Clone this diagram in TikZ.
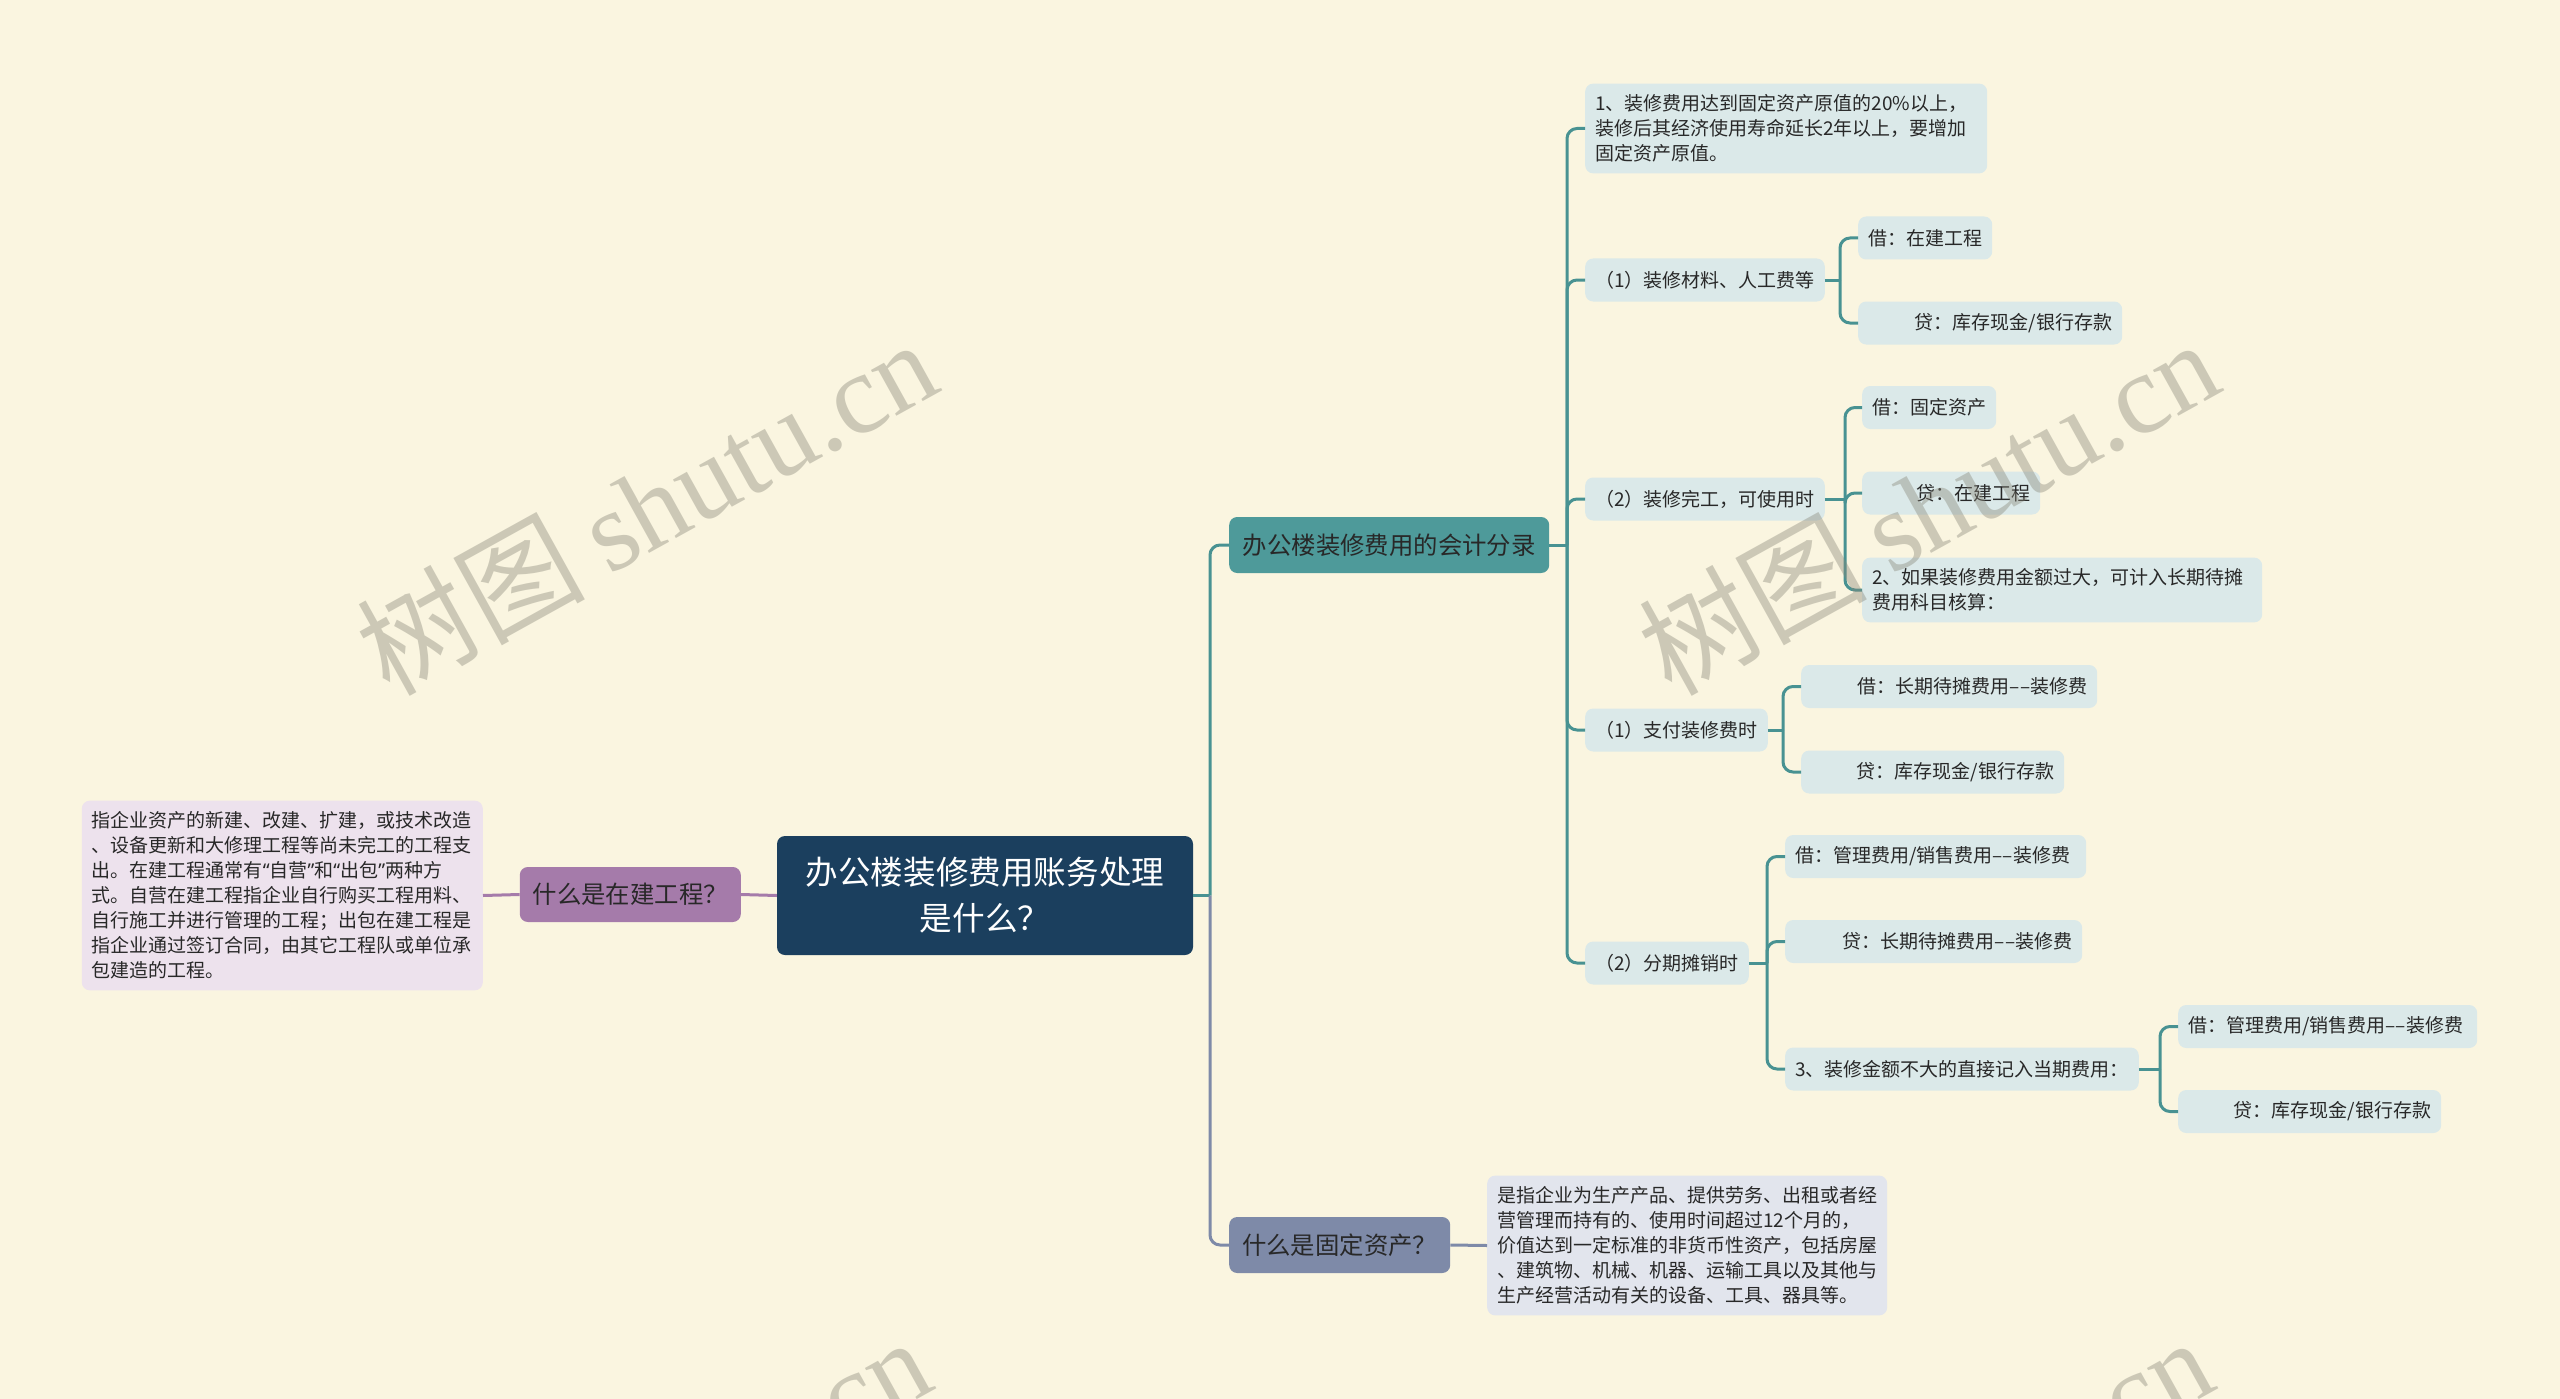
\documentclass[tikz,border=0pt]{standalone}
\usepackage{fontspec}
\setmainfont{Noto Sans CJK SC}
\newfontfamily\wmserif{Liberation Serif}
\newfontfamily\wmcjk{Noto Sans CJK SC}
\newfontfamily\latinq{Noto Sans}
\newcommand{\myLQ}{{\latinq “}}
\newcommand{\myRQ}{{\latinq ”}}
\usetikzlibrary{calc}
\definecolor{bgc}{RGB}{250,245,224}
\definecolor{tealc}{RGB}{78,154,154}
\definecolor{tlinec}{RGB}{72,146,146}
\definecolor{navyc}{RGB}{27,63,94}
\definecolor{purc}{RGB}{165,123,170}
\definecolor{grayc}{RGB}{126,138,168}
\definecolor{tleafc}{RGB}{219,233,233}
\definecolor{pleafc}{RGB}{237,226,237}
\definecolor{gleafc}{RGB}{226,229,237}
\definecolor{txtc}{RGB}{40,40,40}
\definecolor{wmc}{RGB}{136,134,120}
\begin{document}
\begin{tikzpicture}[x=1pt,y=-1pt,
  box/.style={rounded corners=8pt, inner xsep=10pt, inner ysep=0pt, anchor=west, text=txtc},
  leaf/.style={box, fill=tleafc, font=\fontsize{19}{25}\selectfont, minimum height=43pt},
  mleaf/.style={box, fill=tleafc, font=\fontsize{19}{25}\selectfont, inner ysep=11pt, align=left},
  branch/.style={box, minimum height=56pt, inner xsep=4pt, font=\fontsize{24.4}{28}\selectfont},
  tline/.style={draw=tlinec, line width=3pt},
  pline/.style={draw=purc, line width=3pt},
  gline/.style={draw=grayc, line width=3pt},
  rc/.style={rounded corners=10pt}
]
\useasboundingbox (0,0) rectangle (2560,1399);
\fill[bgc] (0,0) rectangle (2560,1399);

% central
\node[fill=navyc, rounded corners=8pt, minimum width=416pt, minimum height=119pt, inner sep=0pt,
  text=white, align=center, font=\fontsize{32.6}{46}\selectfont] (c) at (985,895.5)
  {办公楼装修费用账务处理\\是什么？};

% branches
\node[branch, fill=tealc, minimum width=320pt] (b1) at (1229,545) {办公楼装修费用的会计分录};
\node[branch, fill=purc, minimum width=221pt, minimum height=55pt, anchor=east] (pb) at (741,894.5) {什么是在建工程？};
\node[branch, fill=grayc, minimum width=221pt] (gb) at (1229,1245) {什么是固定资产？};

% purple leaf
\node[mleaf, fill=pleafc, anchor=east, text width=381pt] (pl) at (483,895.5)
  {指企业资产的新建、改建、扩建，或技术改造\\、设备更新和大修理工程等尚未完工的工程支\\出。在建工程通常有\myLQ 自营\myRQ 和\myLQ 出包\myRQ 两种方\\式。自营在建工程指企业自行购买工程用料、\\自行施工并进行管理的工程；出包在建工程是\\指企业通过签订合同，由其它工程队或单位承\\包建造的工程。};

% gray leaf
\node[mleaf, fill=gleafc, text width=380pt] (gl) at (1487,1245.5)
  {是指企业为生产产品、提供劳务、出租或者经\\营管理而持有的、使用时间超过12个月的，\\价值达到一定标准的非货币性资产，包括房屋\\、建筑物、机械、机器、运输工具以及其他与\\生产经营活动有关的设备、工具、器具等。};

% teal level 1
\node[mleaf, text width=382pt] (l1) at (1585,128.5)
  {1、装修费用达到固定资产原值的20\%以上，\\装修后其经济使用寿命延长2年以上，要增加\\固定资产原值。};
\node[leaf] (n1) at (1585,280) {（1）装修材料、人工费等};
\node[leaf] (n2) at (1585,499) {（2）装修完工，可使用时};
\node[leaf] (n3) at (1585,730) {（1）支付装修费时};
\node[leaf] (n4) at (1585,963) {（2）分期摊销时};

% n1 children
\node[leaf] (n11) at (1858,238) {借：在建工程};
\node[leaf, text width=244pt, align=right] (n12) at (1858,323) {贷：库存现金/银行存款};
% n2 children
\node[leaf] (n21) at (1862,407.5) {借：固定资产};
\node[leaf, text width=158pt, align=right] (n22) at (1862,493) {贷：在建工程};
\node[mleaf, text width=380pt] (n23) at (1862,590) {2、如果装修费用金额过大，可计入长期待摊\\费用科目核算：};
% n3 children
\node[leaf, text width=276pt, align=right] (n31) at (1801,686.5) {借：长期待摊费用––装修费};
\node[leaf, text width=243pt, align=right] (n32) at (1801,772) {贷：库存现金/银行存款};
% n4 children
\node[leaf, text width=281pt, align=left] (n41) at (1785,856.5) {借：管理费用/销售费用––装修费};
\node[leaf, text width=277pt, align=right] (n42) at (1785,941.5) {贷：长期待摊费用––装修费};
\node[leaf] (n43) at (1785,1069) {3、装修金额不大的直接记入当期费用：};
% n43 children
\node[leaf, text width=279pt, align=left] (n431) at (2178,1026.5) {借：管理费用/销售费用––装修费};
\node[leaf, text width=243pt, align=right] (n432) at (2178,1111.5) {贷：库存现金/银行存款};

% junctions
\coordinate (j0) at (1210,895.5);
\coordinate (jb1) at (1567,545);
\coordinate (jn1) at (1840,280);
\coordinate (jn2) at (1845,499);
\coordinate (jn3) at (1783,730);
\coordinate (jn4) at (1767,963);
\coordinate (jn43) at (2160,1069);

% connectors
\draw[pline] (c.west) -- (pb.east);
\draw[pline] (pb.west) -- (pl.east);
\draw[gline] (gb.east) -- (gl.west);

\draw[tline] (c.east) -- (j0);
\draw[tline, rc] (j0) |- (b1.west);
\draw[gline, rc] (j0) |- (gb.west);

\draw[tline] (b1.east) -- (jb1);
\foreach \t in {l1,n1,n2,n3,n4} \draw[tline, rc] (jb1) |- (\t.west);

\draw[tline] (n1.east) -- (jn1);
\foreach \t in {n11,n12} \draw[tline, rc] (jn1) |- (\t.west);
\draw[tline] (n2.east) -- (jn2);
\foreach \t in {n21,n22,n23} \draw[tline, rc] (jn2) |- (\t.west);
\draw[tline] (n3.east) -- (jn3);
\foreach \t in {n31,n32} \draw[tline, rc] (jn3) |- (\t.west);
\draw[tline] (n4.east) -- (jn4);
\foreach \t in {n41,n42,n43} \draw[tline, rc] (jn4) |- (\t.west);
\draw[tline] (n43.east) -- (jn43);
\foreach \t in {n431,n432} \draw[tline, rc] (jn43) |- (\t.west);

% watermarks
\begin{scope}
\clip (0,0) rectangle (2560,1399);
\foreach \cx/\cy [count=\i] in {646/506, 1928/506, 640/1504, 1922/1504}
  \node[rotate=29, text=wmc, opacity=0.4, inner sep=0pt, font=\fontsize{114}{124}\selectfont] (wm\i) at (\cx,\cy)
    {\wmcjk 树图\hspace{0.2em}\wmserif shutu.cn};
\end{scope}
\end{tikzpicture}
\end{document}
